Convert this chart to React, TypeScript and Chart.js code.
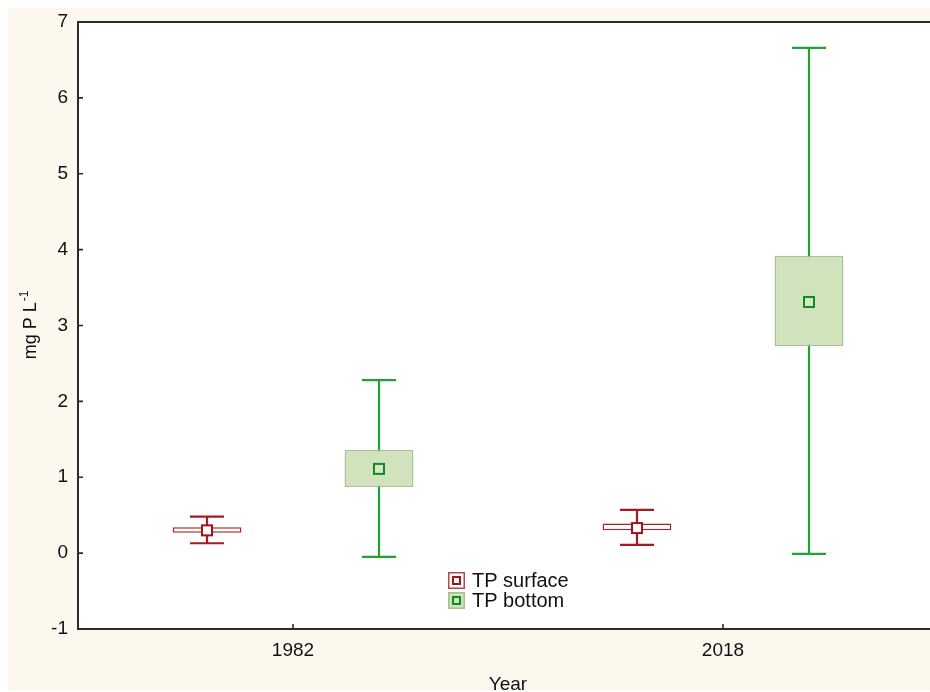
import React, { useEffect, useRef } from "react";
import { Chart, registerables } from "chart.js";

Chart.register(...registerables);

// Sampling years
const categories = ["1982", "2018"];

// TP surface: mean, box (lower/upper) and whisker (min/max) in mg P L-1
const surfaceMean = [0.3, 0.33];
const surfaceBoxLow = [0.27, 0.3];
const surfaceBoxHigh = [0.34, 0.39];
const surfaceWhiskerLow = [0.13, 0.11];
const surfaceWhiskerHigh = [0.48, 0.57];

// TP bottom: mean, box (lower/upper) and whisker (min/max) in mg P L-1
const bottomMean = [1.11, 3.31];
const bottomBoxLow = [0.87, 2.73];
const bottomBoxHigh = [1.36, 3.92];
const bottomWhiskerLow = [-0.05, -0.01];
const bottomWhiskerHigh = [2.28, 6.66];

// Value axis ticks
const yTicks = [-1, 0, 1, 2, 3, 4, 5, 6, 7];

const seriesNames = ["TP surface", "TP bottom"];

const FONT = "'Liberation Sans', Arial, sans-serif";

const styles = [
  {
    fill: "#ffffff",
    boxBorder: "#a8262b",
    whisker: "#a11b1f",
    marker: "#a0141b",
    markerFill: "#ffffff",
    legendBorder: "#b9474b",
  },
  {
    fill: "#d1e3bd",
    boxBorder: "#a9bf95",
    whisker: "#22a236",
    marker: "#138a1f",
    markerFill: "#d6e7c6",
    legendBorder: "#9fc08a",
  },
];

const whiskers = [
  { low: surfaceWhiskerLow, high: surfaceWhiskerHigh, mean: surfaceMean },
  { low: bottomWhiskerLow, high: bottomWhiskerHigh, mean: bottomMean },
];

const boxPlotPlugin = {
  id: "boxPlotExtras",
  beforeDraw(chart: any) {
    const { ctx, chartArea, width, height } = chart;
    ctx.save();
    ctx.fillStyle = "#fcf8ee";
    ctx.fillRect(0, 0, width, height);
    ctx.fillStyle = "#ffffff";
    ctx.fillRect(
      chartArea.left,
      chartArea.top,
      chartArea.right - chartArea.left,
      chartArea.bottom - chartArea.top
    );
    ctx.restore();
  },
  beforeDatasetsDraw(chart: any) {
    const { ctx } = chart;
    const y = chart.scales.y;
    ctx.save();
    whiskers.forEach((w, di) => {
      const meta = chart.getDatasetMeta(di);
      ctx.strokeStyle = styles[di].whisker;
      ctx.lineWidth = 2.2;
      meta.data.forEach((bar: any, j: number) => {
        const x = bar.x;
        const yl = y.getPixelForValue(w.low[j]);
        const yh = y.getPixelForValue(w.high[j]);
        const half = 17;
        ctx.beginPath();
        ctx.moveTo(x, yl);
        ctx.lineTo(x, yh);
        ctx.moveTo(x - half, yl);
        ctx.lineTo(x + half, yl);
        ctx.moveTo(x - half, yh);
        ctx.lineTo(x + half, yh);
        ctx.stroke();
      });
    });
    ctx.restore();
  },
  afterDatasetsDraw(chart: any) {
    const { ctx, chartArea } = chart;
    const y = chart.scales.y;
    const x = chart.scales.x;
    ctx.save();

    // mean markers
    whiskers.forEach((w, di) => {
      const meta = chart.getDatasetMeta(di);
      meta.data.forEach((bar: any, j: number) => {
        const px = bar.x;
        const py = y.getPixelForValue(w.mean[j]);
        ctx.fillStyle = styles[di].markerFill;
        ctx.strokeStyle = styles[di].marker;
        ctx.lineWidth = 2;
        ctx.fillRect(px - 5, py - 5, 10, 10);
        ctx.strokeRect(px - 5, py - 5, 10, 10);
      });
    });

    // frame
    ctx.strokeStyle = "#2b2b2b";
    ctx.lineWidth = 2;
    ctx.strokeRect(
      chartArea.left,
      chartArea.top,
      chartArea.right - chartArea.left,
      chartArea.bottom - chartArea.top
    );

    // inward tick marks
    ctx.lineWidth = 1.6;
    ctx.beginPath();
    y.ticks.forEach((_t: any, i: number) => {
      const py = y.getPixelForTick(i);
      ctx.moveTo(chartArea.left, py);
      ctx.lineTo(chartArea.left + 5, py);
    });
    x.ticks.forEach((_t: any, i: number) => {
      const px = x.getPixelForTick(i);
      ctx.moveTo(px, chartArea.bottom);
      ctx.lineTo(px, chartArea.bottom - 5);
    });
    ctx.stroke();

    // legend
    const cx = (chartArea.left + chartArea.right) / 2;
    ctx.font = `20px ${FONT}`;
    const textW = Math.max(...seriesNames.map((n) => ctx.measureText(n).width));
    const blockW = 17 + 7 + textW;
    const lx = Math.round(cx - blockW / 2);
    seriesNames.forEach((name, i) => {
      const top = chartArea.bottom - 57 + i * 20;
      ctx.fillStyle = styles[i].fill;
      ctx.fillRect(lx, top, 17, 17);
      ctx.strokeStyle = styles[i].legendBorder;
      ctx.lineWidth = 1.5;
      ctx.strokeRect(lx + 0.75, top + 0.75, 15.5, 15.5);
      ctx.strokeStyle = styles[i].marker;
      ctx.lineWidth = 2;
      ctx.strokeRect(lx + 5, top + 5, 7, 7);
      ctx.fillStyle = "#111111";
      ctx.textAlign = "left";
      ctx.textBaseline = "middle";
      ctx.fillText(name, lx + 24, top + 9);
    });

    // axis titles
    ctx.fillStyle = "#111111";
    ctx.textAlign = "center";
    ctx.textBaseline = "alphabetic";
    ctx.font = `19px ${FONT}`;
    ctx.fillText("Year", cx, chart.height - 1);

    const cy = (chartArea.top + chartArea.bottom) / 2;
    ctx.translate(28, cy);
    ctx.rotate(-Math.PI / 2);
    ctx.textAlign = "left";
    ctx.font = `18px ${FONT}`;
    const main = "mg P L";
    const w1 = ctx.measureText(main).width;
    ctx.font = `12px ${FONT}`;
    const sup = "-1";
    const w2 = ctx.measureText(sup).width;
    const start = -(w1 + w2) / 2;
    ctx.font = `18px ${FONT}`;
    ctx.fillText(main, start, 0);
    ctx.font = `12px ${FONT}`;
    ctx.fillText(sup, start + w1 + 1, -8);

    ctx.restore();
  },
};

export default function App() {
  const canvasRef = useRef<HTMLCanvasElement | null>(null);

  useEffect(() => {
    if (!canvasRef.current) return;
    const chart = new Chart(canvasRef.current, {
      type: "bar",
      data: {
        labels: categories,
        datasets: [
          {
            label: seriesNames[0],
            data: categories.map((_, i) => [surfaceBoxLow[i], surfaceBoxHigh[i]]),
            backgroundColor: styles[0].fill,
            borderColor: styles[0].boxBorder,
            borderWidth: 1.5,
            borderSkipped: false,
            barPercentage: 0.4,
            categoryPercentage: 0.8,
          },
          {
            label: seriesNames[1],
            data: categories.map((_, i) => [bottomBoxLow[i], bottomBoxHigh[i]]),
            backgroundColor: styles[1].fill,
            borderColor: styles[1].boxBorder,
            borderWidth: 1.5,
            borderSkipped: false,
            barPercentage: 0.4,
            categoryPercentage: 0.8,
          },
        ],
      } as any,
      options: {
        responsive: false,
        animation: false,
        devicePixelRatio: 1,
        layout: { padding: { left: 0, right: 5, top: 14, bottom: 0 } },
        plugins: {
          legend: { display: false },
          tooltip: { enabled: false },
        },
        scales: {
          x: {
            grid: { display: false, drawTicks: false },
            border: { display: false },
            ticks: {
              color: "#111111",
              font: { family: FONT, size: 19 },
              padding: 10,
            },
            afterFit: (scale: any) => {
              scale.height = 62;
              scale.paddingLeft = 0;
              scale.paddingRight = 0;
            },
          },
          y: {
            min: yTicks[0],
            max: yTicks[yTicks.length - 1],
            grid: { display: false, drawTicks: false },
            border: { display: false },
            afterBuildTicks: (scale: any) => {
              scale.ticks = yTicks.map((v) => ({ value: v }));
            },
            ticks: {
              color: "#111111",
              font: { family: FONT, size: 19 },
              padding: 10,
            },
            afterFit: (scale: any) => {
              scale.width = 70;
              scale.paddingTop = 0;
              scale.paddingBottom = 0;
            },
          },
        },
      } as any,
      plugins: [boxPlotPlugin],
    });
    return () => chart.destroy();
  }, []);

  return (
    <div
      style={{
        position: "fixed",
        left: 8,
        top: 8,
        width: 922,
        height: 683,
        overflow: "hidden",
      }}
    >
      <canvas
        ref={canvasRef}
        width={935}
        height={683}
        style={{ display: "block", width: 935, height: 683 }}
      />
    </div>
  );
}
